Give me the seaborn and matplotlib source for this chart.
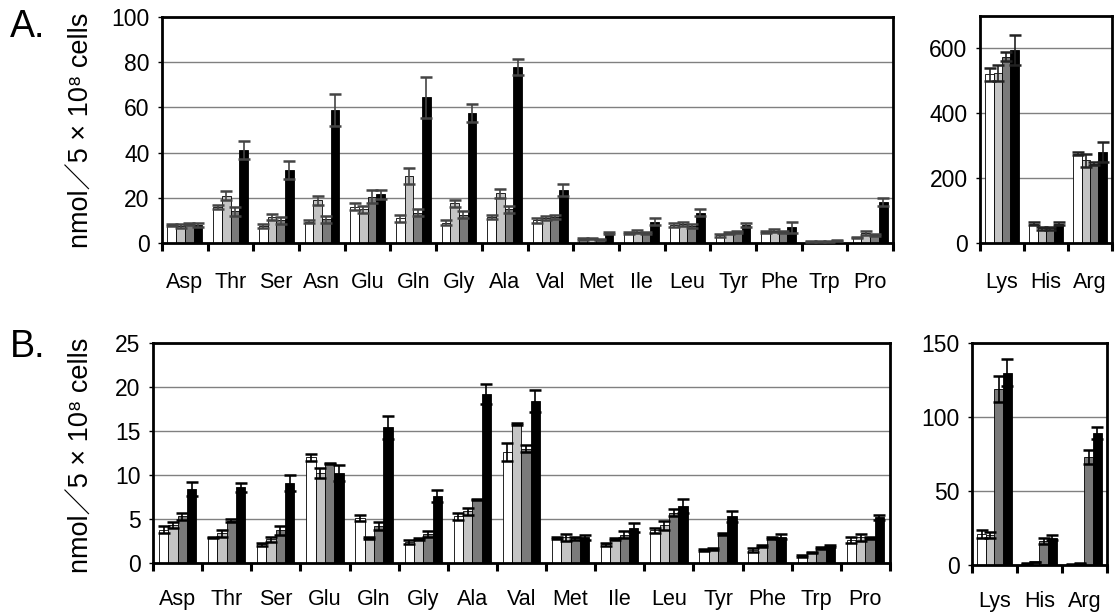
import numpy as np
import pandas as pd
import matplotlib
matplotlib.use("Agg")
from matplotlib import pyplot as plt
import seaborn as sns

plt.rcParams['font.family'] = ['Liberation Sans', 'Noto Sans CJK JP', 'DejaVu Sans']

levels = ["1", "2", "3", "4"]
colors = ["#ffffff", "#c4c4c4", "#7a7a7a", "#000000"]

# panel A, left
aa_a = ["Asp", "Thr", "Ser", "Asn", "Glu", "Gln", "Gly", "Ala",
        "Val", "Met", "Ile", "Leu", "Tyr", "Phe", "Trp", "Pro"]
a_v1 = [8, 16, 7.5, 9.5, 16, 11, 9, 11.5, 10, 1.8, 4.5, 8, 3.5, 5, 0.8, 2.5]
a_e1 = [0.5, 1, 1, 0.5, 1.5, 1.5, 1, 0.8, 1, 0.3, 0.5, 0.8, 0.7, 0.5, 0.2, 0.3]
a_v2 = [7.5, 21, 11.5, 19, 15, 29.5, 17.5, 22, 11, 2.1, 5, 8.5, 4.5, 5.5, 0.8, 4.5]
a_e2 = [0.7, 2, 1.5, 2, 1.5, 3.5, 1.5, 2, 1, 0.3, 0.7, 1, 0.5, 0.7, 0.2, 1]
a_v3 = [8.5, 14, 10, 10.5, 20.5, 13.5, 12.5, 15, 11.5, 1.6, 4.5, 7.5, 5, 5, 0.8, 3.5]
a_e3 = [0.5, 2, 1.5, 1.5, 3, 1.5, 1.5, 1.5, 1, 0.3, 0.5, 1, 0.5, 0.5, 0.2, 0.3]
a_v4 = [8, 41, 32.5, 59, 21.5, 64.5, 57.5, 78, 23.5, 4.3, 9.5, 13.5, 8, 7, 1, 18]
a_e4 = [1, 4, 4, 7, 2, 9, 4, 3.5, 2.8, 0.5, 1.5, 1.5, 0.8, 2.5, 0.2, 1.8]

# panel A, right
aa_ar = ["Lys", "His", "Arg"]
ar_v1 = [520, 60, 275]
ar_e1 = [20, 5, 5]
ar_v2 = [525, 45, 255]
ar_e2 = [25, 5, 20]
ar_v3 = [575, 45, 245]
ar_e3 = [15, 5, 5]
ar_v4 = [595, 60, 280]
ar_e4 = [45, 5, 30]

# panel B, left
aa_b = ["Asp", "Thr", "Ser", "Glu", "Gln", "Gly", "Ala", "Val",
        "Met", "Ile", "Leu", "Tyr", "Phe", "Trp", "Pro"]
b_v1 = [3.8, 2.9, 2.1, 12.0, 5.1, 2.4, 5.3, 12.6, 2.8, 2.1, 3.7, 1.5, 1.5, 0.8, 2.6]
b_e1 = [0.4, 0.1, 0.15, 0.4, 0.3, 0.2, 0.4, 1.0, 0.1, 0.2, 0.3, 0.1, 0.2, 0.1, 0.3]
b_v2 = [4.3, 3.4, 2.7, 10.2, 2.8, 2.7, 5.9, 15.8, 2.9, 2.7, 4.3, 1.6, 1.9, 1.2, 2.9]
b_e2 = [0.3, 0.4, 0.3, 0.6, 0.1, 0.1, 0.4, 0.1, 0.4, 0.1, 0.5, 0.1, 0.1, 0.1, 0.4]
b_v3 = [5.3, 4.8, 3.7, 11.3, 4.2, 3.3, 7.2, 13.0, 2.8, 3.2, 5.7, 3.3, 2.8, 1.7, 2.8]
b_e3 = [0.4, 0.2, 0.5, 0.1, 0.4, 0.3, 0.1, 0.4, 0.2, 0.4, 0.4, 0.1, 0.1, 0.1, 0.1]
b_v4 = [8.4, 8.6, 9.1, 10.2, 15.4, 7.6, 19.2, 18.4, 2.9, 4.0, 6.5, 5.3, 3.0, 1.9, 5.2]
b_e4 = [0.8, 0.5, 0.9, 0.9, 1.3, 0.7, 1.1, 1.3, 0.3, 0.5, 0.8, 0.6, 0.3, 0.1, 0.3]

# panel B, right
aa_br = ["Lys", "His", "Arg"]
br_v1 = [21, 1, 0.5]
br_e1 = [2.5, 0.3, 0.2]
br_v2 = [20, 2, 1]
br_e2 = [2, 0.3, 0.2]
br_v3 = [119, 16, 73]
br_e3 = [9, 2, 5]
br_v4 = [130, 18.5, 89]
br_e4 = [9, 1.5, 4]

ylab = "nmol\uff0f5 \u00d7 10\u2078 cells"


def panel(ax, aa, vals, errs, ymax, yticks, errcolor, pad):
    rows = []
    for lev, v in zip(levels, vals):
        for name, x in zip(aa, v):
            rows.append([name, lev, x])
    df = pd.DataFrame(rows, columns=["aa", "group", "value"])
    sns.barplot(ax=ax, data=df, x="aa", y="value", hue="group", order=aa,
                hue_order=levels, palette=colors, saturation=1, width=0.76,
                edgecolor="black", linewidth=0.6, errorbar=None, legend=False,
                zorder=2)
    for k, cont in enumerate(list(ax.containers)):
        for bar in cont:
            xc = bar.get_x() + bar.get_width() / 2
            i = int(round(xc))
            ax.errorbar(xc, bar.get_height(), yerr=errs[k][i], fmt="none",
                        ecolor=errcolor, elinewidth=1.2, capsize=4,
                        capthick=1.8, zorder=3)
    n = len(aa)
    ax.set_xlim(-0.5, n - 0.5)
    ax.set_ylim(0, ymax)
    ax.set_yticks(yticks)
    ax.set_xlabel("")
    ax.set_ylabel("")
    ax.set_xticks(np.arange(n + 1) - 0.5, minor=True)
    ax.tick_params(axis="x", which="minor", length=6, width=2.2,
                   direction="out", color="black")
    ax.tick_params(axis="x", which="major", length=0, pad=pad, labelsize=15.5)
    ax.tick_params(axis="y", length=3, width=1, pad=6, labelsize=16.5)
    ax.yaxis.grid(True, color="#808080", linewidth=1)
    ax.set_axisbelow(True)
    for s in ax.spines.values():
        s.set_linewidth(2)
        s.set_color("black")


fig = plt.figure(figsize=(11.15, 6.14), dpi=100)
ax1 = fig.add_axes([0.1453, 0.6042, 0.6556, 0.368])
ax2 = fig.add_axes([0.879, 0.6042, 0.1184, 0.3697])
ax3 = fig.add_axes([0.1372, 0.0831, 0.661, 0.3583])
ax4 = fig.add_axes([0.8717, 0.0798, 0.1211, 0.3616])

panel(ax1, aa_a, [a_v1, a_v2, a_v3, a_v4], [a_e1, a_e2, a_e3, a_e4],
      100, range(0, 101, 20), "#444444", 21)
panel(ax2, aa_ar, [ar_v1, ar_v2, ar_v3, ar_v4], [ar_e1, ar_e2, ar_e3, ar_e4],
      700, range(0, 601, 200), "#222222", 21)
panel(ax3, aa_b, [b_v1, b_v2, b_v3, b_v4], [b_e1, b_e2, b_e3, b_e4],
      25, range(0, 26, 5), "black", 19)
panel(ax4, aa_br, [br_v1, br_v2, br_v3, br_v4], [br_e1, br_e2, br_e3, br_e4],
      150, range(0, 151, 50), "black", 19)

fig.text(82 / 1115, 0.788, ylab, rotation=90, ha="center", va="center",
         fontsize=19.5)
fig.text(82 / 1115, 0.259, ylab, rotation=90, ha="center", va="center",
         fontsize=19.5)
fig.text(10 / 1115, 1 - 37 / 614, "A.", fontsize=27, ha="left", va="baseline")
fig.text(10 / 1115, 1 - 357 / 614, "B.", fontsize=27, ha="left", va="baseline")

fig.savefig("out.png", dpi=100)
